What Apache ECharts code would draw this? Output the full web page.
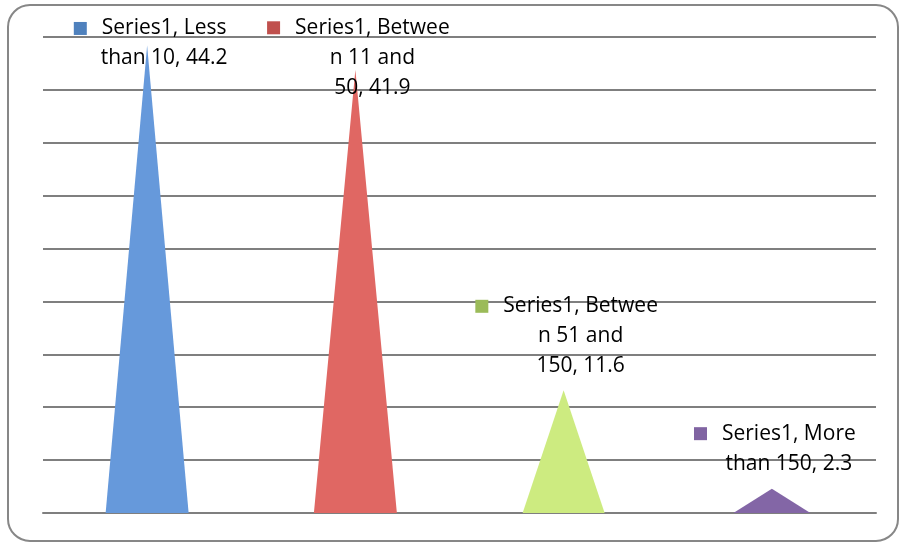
<!DOCTYPE html>
<html>
<head>
<meta charset="utf-8">
<script src="https://cdn.jsdelivr.net/npm/echarts@6/dist/echarts.min.js"></script>
<style>html,body{margin:0;padding:0;background:#fff}#c{width:902px;height:544px}</style>
</head>
<body>
<div id="c"></div>
<script>
const seriesName = 'Series1';
const categories = ['Less than 10', 'Between 11 and 50', 'Between 51 and 150', 'More than 150'];
const values = [44.2, 41.9, 11.6, 2.3];
const labelLines = [
  ['Series1, Less', 'than 10, 44.2'],
  ['Series1, Betwee', 'n 11 and', '50, 41.9'],
  ['Series1, Betwee', 'n 51 and', '150, 11.6'],
  ['Series1, More', 'than 150, 2.3']
];
const yMin = 0, yMax = 45, yInterval = 5;

// styles / layout
const fillColors = ['#6699DB', '#E06763', '#CDEB80', '#8366A6'];
const keyColors = ['#4F81BD', '#C0504D', '#9BBB59', '#8064A2'];
const baseWidths = [83, 83, 82, 77];
const labelOffsets = [[17, 28], [17, 33], [17, -9], [17, -10]];
const FONT = '"Open Sans", "Liberation Sans", sans-serif';

const rich = {
  g: { width: 15, height: 13 },
  g2: { width: 28, height: 13 },
  t: { fontFamily: FONT, fontSize: 21, lineHeight: 30, color: '#000' }
};
keyColors.forEach((c, i) => { rich['k' + i] = { width: 13, height: 13, backgroundColor: c }; });

const data = values.map((v, i) => ({
  value: v,
  name: categories[i],
  symbolSize: [baseWidths[i], '100%'],
  itemStyle: { color: fillColors[i] },
  label: {
    show: true,
    position: 'top',
    distance: 0,
    offset: labelOffsets[i],
    formatter: () => labelLines[i].map((l, j) => j === 0
      ? `{k${i}|}{g|}{t|${l}}{g2|}`
      : `{t|${l}}`).join('\n'),
    rich: rich
  }
}));

const chart = echarts.init(document.getElementById('c'), null, { renderer: 'canvas' });
chart.setOption({
  animation: false,
  backgroundColor: '#fff',
  graphic: [{
    type: 'rect',
    shape: { x: 8, y: 5, width: 890, height: 536, r: 22 },
    style: { fill: 'none', stroke: '#878787', lineWidth: 2 },
    silent: true, z: -10
  }],
  grid: { left: 43, right: 26, top: 37, bottom: 31, containLabel: false },
  xAxis: {
    type: 'category',
    data: categories,
    axisLine: { show: true, lineStyle: { color: '#7f7f7f', width: 2 } },
    axisTick: { show: false },
    axisLabel: { show: false }
  },
  yAxis: {
    type: 'value',
    min: yMin, max: yMax, interval: yInterval,
    axisLine: { show: false },
    axisTick: { show: false },
    axisLabel: { show: false },
    splitLine: { show: true, lineStyle: { color: '#7f7f7f', width: 2 } }
  },
  series: [{
    name: seriesName,
    type: 'pictorialBar',
    symbol: 'triangle',
    symbolPosition: 'start',
    data: data,
    z: 3
  }]
});
</script>
</body>
</html>
